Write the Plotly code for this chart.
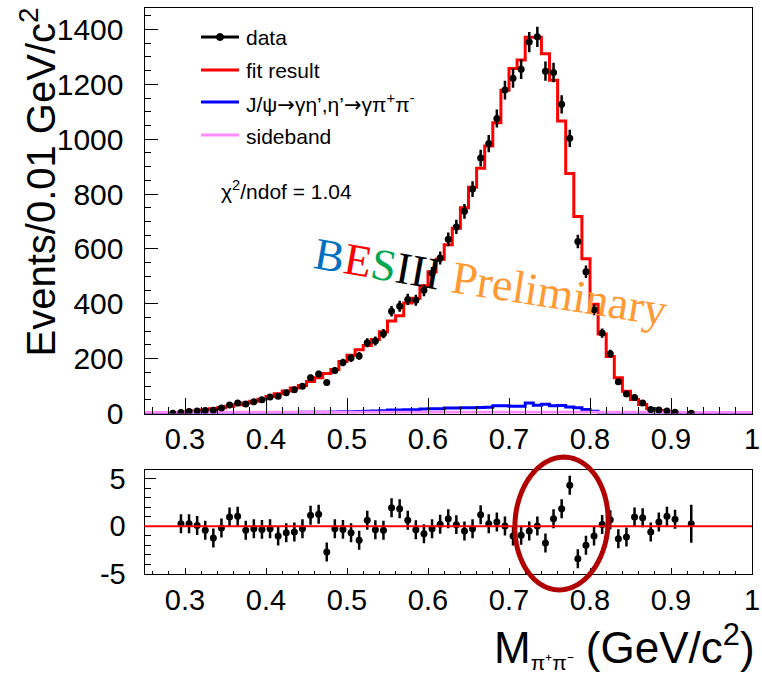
import numpy as np
import plotly.graph_objects as go

W, H = 762, 675

# 0.01 GeV/c^2 bins spanning the frame (lower edges 0.25 ... 0.99)
edges = np.round(np.linspace(0.25, 1.00, 76), 3)
centers = np.round(edges[:-1] + 0.005, 4)

# fitted total (per bin, lower edge 0.25 ... 0.99)
fit_result = [
    0, 0, 0, 1.5, 3, 6, 9, 13, 17, 21,
    26, 32, 38, 45, 52, 62, 72, 82, 93, 102,
    117, 130, 146, 160, 190, 212, 232, 248, 270, 298,
    337, 356, 403, 420, 466, 517, 562, 615, 675, 750,
    825, 894, 975, 1060, 1178, 1258, 1289, 1372, 1372, 1311,
    1215, 1066, 875, 718, 564, 398, 290, 208, 130, 81,
    51, 33, 18, 11, 6, 3.5, 2, 1, 0.5, 0,
    0, 0, 0, 0, 0,
]

# J/psi -> gamma eta', eta' -> gamma pi+ pi- component
jpsi_etap = [
    0, 0, 0, 0.5, 1, 1, 1, 1.5, 2, 2,
    2, 2.5, 3, 3, 3, 3.5, 4, 4, 4, 4.5,
    5, 5, 5, 5.5, 6, 6.5, 7, 8, 9, 10,
    13, 13, 14, 14, 16, 17, 17, 20, 20, 21,
    21, 22, 23, 28, 28, 26, 26, 38, 30, 34,
    28, 29, 24, 21, 15, 8, 4, 3, 2, 1,
    0.5, 0, 0, 0, 0, 0, 0, 0, 0, 0,
    0, 0, 0, 0, 0,
]

# sideband estimate
sideband = [
    0.3, 0.3, 0.3, 0.3, 0.3, 0.5, 0.5, 0.5, 0.5, 0.5,
    0.5, 0.5, 0.5, 0.5, 0.5, 0.8, 0.8, 0.8, 0.8, 0.8,
    0.8, 1, 1, 1, 1, 1, 1, 1, 1, 1,
    1, 1, 1, 1, 1, 1, 1.2, 1.2, 1.2, 1.2,
    1.2, 1.2, 1.2, 1.2, 1.2, 1.2, 1.2, 1.2, 1.2, 1.2,
    1.2, 1.2, 1.2, 1.2, 1.2, 1.2, 0.8, 0.8, 0.8, 0.8,
    0.5, 0.5, 0.5, 0.5, 0.5, 0.5, 0.3, 0.3, 0.3, 0.3,
    0.3, 0.3, 0.3, 0.3, 0.3,
]

# observed events per bin (None = no entry drawn)
data_counts = [
    None, None, None, 1, 4, 7, 9, 11, 12, 20,
    31, 38, 35, 43, 50, 60, 63, 76, 87, 99,
    130, 144, 113, 157, 186, 202, 210, 258, 264, 291,
    373, 391, 416, 413, 449, 511, 567, 635, 680, 737,
    818, 931, 984, 1075, 1179, 1222, 1255, 1354, 1373, 1248,
    1243, 1127, 1003, 627, 517, 378, 293, 218, 116, 71,
    58, 38, 15, 13, 9, 5, None, 1, None, None,
    None, None, None, None, None,
]

# pulls (data - fit) / sigma and their error bars
pulls = [
    None, None, None, None, 0.28, 0.28, 0.1, -0.42, -1.23, -0.18,
    0.98, 1.05, -0.42, -0.25, -0.32, -0.25, -1.02, -0.67, -0.6, -0.25,
    1.16, 1.26, -2.7, -0.25, -0.32, -0.67, -1.47, 0.63, -0.35, -0.42,
    1.96, 1.86, 0.63, -0.35, -0.77, -0.25, 0.21, 0.8, 0.18, -0.49,
    -0.25, 1.23, 0.28, 0.46, 0.04, -1.02, -0.95, -0.49, 0.04, -1.75,
    0.81, 1.86, 4.32, -3.4, -2.0, -1.02, 0.2, 0.7, -1.3, -1.12,
    0.98, 0.91, -0.6, 0.46, 1.05, 0.74, None, 0.28, None, None,
    None, None, None, None, None,
]
pull_errors = [
    None, None, None, None, 1, 1, 1, 1, 1, 1,
    1, 1, 1, 1, 1, 1, 1, 1, 1, 1,
    1, 1, 1, 1, 1, 1, 1, 1, 1, 1,
    1, 1, 1, 1, 1, 1, 1, 1, 1, 1,
    1, 1, 1, 1, 1, 1, 1, 1, 1, 1,
    1, 1, 1, 1, 1, 1, 1, 1, 1, 1,
    1, 1, 1, 1, 1, 1, None, 2.0, None, None,
    None, None, None, None, None,
]

x_ticks = [0.3, 0.4, 0.5, 0.6, 0.7, 0.8, 0.9, 1.0]
x_tick_text = ["0.3", "0.4", "0.5", "0.6", "0.7", "0.8", "0.9", "1"]
pull_ticks = [-5, 0, 5]
pull_tick_text = ["-5", "0", "5"]


def px(x):
    return x / W


def py(y):
    return 1 - y / H


def step(values):
    v = list(values)
    return list(edges), v + [v[-1]]


FONT = "Liberation Sans, Arial, Helvetica, sans-serif"
SERIF = "Liberation Serif, Times New Roman, serif"
ARROW = "<span style='font-family:DejaVu Sans'>→</span>"

fig = go.Figure()

# ---- upper panel: histograms and data ----
ex, ey = step(fit_result)
fig.add_trace(go.Scatter(x=ex, y=ey, mode="lines", line=dict(color="#ff0000", width=3, shape="hv"),
                         xaxis="x", yaxis="y", hoverinfo="skip"))
ex, ey = step(jpsi_etap)
fig.add_trace(go.Scatter(x=ex, y=ey, mode="lines", line=dict(color="#0000ff", width=3, shape="hv"),
                         xaxis="x", yaxis="y", hoverinfo="skip"))
ex, ey = step(sideband)
fig.add_trace(go.Scatter(x=ex, y=ey, mode="lines", line=dict(color="#ff8cff", width=5, shape="hv"),
                         xaxis="x", yaxis="y", hoverinfo="skip", cliponaxis=False))

dx = [c for c, n in zip(centers, data_counts) if n is not None]
dy = [n for n in data_counts if n is not None]
de = [float(np.sqrt(n)) for n in dy]
fig.add_trace(go.Scatter(x=dx, y=dy, mode="markers",
                         marker=dict(color="black", size=7),
                         error_y=dict(type="data", array=de, color="black", thickness=2.5, width=0),
                         xaxis="x", yaxis="y"))

# ---- lower panel: pulls ----
rx = [c for c, p in zip(centers, pulls) if p is not None]
ry = [p for p in pulls if p is not None]
re_ = [e for e in pull_errors if e is not None]
fig.add_trace(go.Scatter(x=rx, y=ry, mode="markers",
                         marker=dict(color="black", size=7),
                         error_y=dict(type="data", array=re_, color="black", thickness=2.5, width=0),
                         xaxis="x2", yaxis="y2"))

axis_common = dict(showline=True, linecolor="black", linewidth=1, mirror=True,
                   showgrid=False, zeroline=False, ticks="inside", tickcolor="black",
                   automargin=False)
tick_font = dict(family=FONT, size=29, color="black")

x_left, x_right = px(144.5), px(752)
fig.update_layout(
    template="none",
    width=W, height=H,
    margin=dict(l=0, r=0, t=0, b=0, autoexpand=False),
    paper_bgcolor="white", plot_bgcolor="white",
    showlegend=False,
    xaxis=dict(domain=[x_left, x_right], range=[0.25, 1.0], anchor="y",
               tickvals=x_ticks, ticktext=x_tick_text, ticklen=16,
               tickfont=tick_font,
               minor=dict(dtick=0.02, tick0=0.0, ticklen=7, ticks="inside", tickcolor="black"),
               **axis_common),
    yaxis=dict(domain=[py(413.5), py(7.5)], range=[0, 1480], anchor="x",
               dtick=200, tick0=0, ticklen=13,
               tickfont=dict(family=FONT, size=30, color="black"), ticklabelstandoff=14,
               minor=dict(dtick=50, ticklen=6, ticks="inside", tickcolor="black"),
               **axis_common),
    xaxis2=dict(domain=[x_left, x_right], range=[0.25, 1.0], anchor="y2",
                tickvals=x_ticks, ticktext=x_tick_text, ticklen=6,
                tickfont=tick_font,
                minor=dict(dtick=0.02, tick0=0.0, ticklen=3, ticks="inside", tickcolor="black"),
                **axis_common),
    yaxis2=dict(domain=[py(574.3), py(470.3)], range=[-5.05, 5.9], anchor="x2",
                tickvals=pull_ticks, ticktext=pull_tick_text, ticklen=11,
                tickfont=tick_font, ticklabelstandoff=12,
                minor=dict(dtick=1, tick0=0, ticklen=6, ticks="inside", tickcolor="black"),
                **axis_common),
)

shapes = []
# zero line of the pull panel
shapes.append(dict(type="line", xref="x2 domain", yref="y2", x0=0, x1=1, y0=0, y1=0,
                   line=dict(color="#ff0000", width=2), layer="above"))

# slightly tilted ellipse highlighting the omega region
cx, cy, ra, rb, tilt = 561.5, 523.5, 46.5, 66.5, np.radians(4)
t = np.linspace(0, 2 * np.pi, 121)
u, v = ra * np.cos(t), rb * np.sin(t)
ex_pix = cx + u * np.cos(tilt) + v * np.sin(tilt)
ey_pix = cy - (-u * np.sin(tilt) + v * np.cos(tilt))
ell_path = "M " + " L ".join(f"{px(a):.5f},{py(b):.5f}" for a, b in zip(ex_pix, ey_pix)) + " Z"
shapes.append(dict(type="path", xref="paper", yref="paper", path=ell_path,
                   line=dict(color="#b00000", width=5), layer="above"))

# legend samples
legend_rows = [37, 70, 102, 135]
legend_colors = ["black", "#ff0000", "#0000ff", "#ff8cff"]
legend_labels = ["data", "fit result",
                 "J/ψ" + ARROW + "γη’,η’" + ARROW + "γπ<sup>+</sup>π<sup>-</sup>", "sideband"]
for yrow, col in zip(legend_rows, legend_colors):
    shapes.append(dict(type="line", xref="paper", yref="paper",
                       x0=px(201), x1=px(239), y0=py(yrow), y1=py(yrow),
                       line=dict(color=col, width=3)))
shapes.append(dict(type="circle", xref="paper", yref="paper",
                   x0=px(216.5), x1=px(223.5), y0=py(40.5), y1=py(33.5),
                   fillcolor="black", line=dict(color="black", width=1)))
fig.update_layout(shapes=shapes)

ann = []
for yrow, lab in zip(legend_rows, legend_labels):
    ann.append(dict(xref="paper", yref="paper", x=px(244), y=py(yrow + 1), text=lab,
                    xanchor="left", yanchor="middle", showarrow=False,
                    font=dict(family=FONT, size=21, color="black")))
ann.append(dict(xref="paper", yref="paper", x=px(219), y=py(190),
                text="χ<sup>2</sup>/ndof = 1.04", xanchor="left", yanchor="middle",
                showarrow=False, font=dict(family=FONT, size=21, color="black")))
ann.append(dict(xref="paper", yref="paper", x=px(378), y=py(264),
                text=("<span style='color:#0070c0'>B</span>"
                      "<span style='color:#ff0000'>E</span>"
                      "<span style='color:#00a651'>S</span>"
                      "<span style='color:#000000'>III</span>"),
                textangle=10, xanchor="center", yanchor="middle", showarrow=False,
                font=dict(family=SERIF, size=45)))
ann.append(dict(xref="paper", yref="paper", x=px(559), y=py(293), text="Preliminary",
                textangle=9, xanchor="center", yanchor="middle", showarrow=False,
                font=dict(family=SERIF, size=46, color="#ff9933")))
# axis titles
ann.append(dict(xref="paper", yref="paper", x=px(39), y=py(6),
                text="Events/0.01 GeV/c<sup>2</sup>", textangle=-90,
                xanchor="center", yanchor="top", showarrow=False,
                font=dict(family=FONT, size=40, color="black")))
ann.append(dict(xref="paper", yref="paper", x=px(757), y=py(645),
                text="M<span style='font-size:30px'><sub>π⁺π⁻</sub></span> (GeV/c<sup>2</sup>)",
                xanchor="right", yanchor="middle", showarrow=False,
                font=dict(family=FONT, size=44, color="black")))
fig.update_layout(annotations=ann)

fig.write_html("out.html")
